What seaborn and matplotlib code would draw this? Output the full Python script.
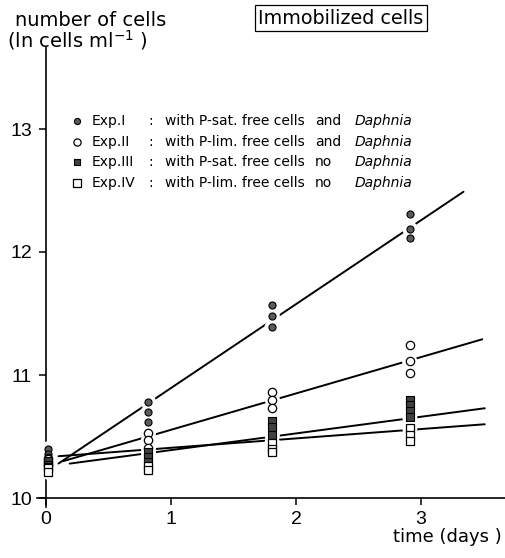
import numpy as np
import pandas as pd
import matplotlib
matplotlib.use("Agg")
import matplotlib.pyplot as plt
import seaborn as sns

# ---- data ----
exp_names = ["Exp.I", "Exp.II", "Exp.III", "Exp.IV"]

exp1_days = [0.02, 0.02, 0.02, 0.82, 0.82, 0.82, 1.81, 1.81, 1.81, 2.91, 2.91, 2.91]
exp1_vals = [10.40, 10.36, 10.33, 10.78, 10.70, 10.62, 11.57, 11.48, 11.39, 12.31, 12.19, 12.11]

exp2_days = [0.02, 0.02, 0.02, 0.82, 0.82, 0.82, 1.81, 1.81, 1.81, 2.91, 2.91, 2.91]
exp2_vals = [10.32, 10.29, 10.27, 10.53, 10.47, 10.41, 10.86, 10.80, 10.73, 11.24, 11.11, 11.02]

exp3_days = [0.02, 0.02, 0.02, 0.82, 0.82, 0.82, 1.81, 1.81, 1.81, 2.91, 2.91, 2.91, 2.91]
exp3_vals = [10.30, 10.27, 10.25, 10.37, 10.33, 10.29, 10.63, 10.58, 10.51, 10.80, 10.76, 10.71, 10.66]

exp4_days = [0.02, 0.02, 0.82, 0.82, 1.81, 1.81, 1.81, 2.91, 2.91, 2.91]
exp4_vals = [10.24, 10.21, 10.26, 10.23, 10.45, 10.40, 10.37, 10.57, 10.51, 10.46]

# regression lines (slope / intercept and drawn range)
fit_slope = [0.682, 0.2955, 0.1355, 0.0762]
fit_intercept = [10.212, 10.259, 10.254, 10.332]
fit_start = [0.10, 0.14, 0.19, 0.10]
fit_end = [3.34, 3.49, 3.51, 3.51]

legend_text = ["with P-sat. free cells", "with P-lim. free cells",
               "with P-sat. free cells", "with P-lim. free cells"]
legend_join = ["and", "and", "no", "no"]

y_ticks = [10, 11, 12, 13]
x_ticks = [0, 1, 2, 3]

# ---- frames ----
points = pd.concat([
    pd.DataFrame({"day": d, "value": v, "exp": n})
    for d, v, n in zip([exp1_days, exp2_days, exp3_days, exp4_days],
                       [exp1_vals, exp2_vals, exp3_vals, exp4_vals], exp_names)
], ignore_index=True)

fits = pd.concat([
    pd.DataFrame({"day": [a, b], "value": [c + m * a, c + m * b], "exp": n})
    for a, b, m, c, n in zip(fit_start, fit_end, fit_slope, fit_intercept, exp_names)
], ignore_index=True)

sns.set_style("ticks")
plt.rcParams["font.family"] = ["DejaVu Sans"]
plt.rcParams["text.color"] = "black"
plt.rcParams["xtick.color"] = "black"
plt.rcParams["ytick.color"] = "black"

W, H = 506, 558
fig = plt.figure(figsize=(W / 100, H / 100), dpi=100)


def fx(px):
    return px / W


def fy(py):
    return 1 - py / H


# axes placed so that x=0 -> 46px, y=10 -> 498px
ax_l, ax_r, ax_t, ax_b = 37, 505, 47, 507
ax = fig.add_axes([fx(ax_l), fy(ax_b), (ax_r - ax_l) / W, (ax_b - ax_t) / H])
ax.set_xlim((ax_l - 46) / 125, (ax_r - 46) / 125)
ax.set_ylim(10 - (ax_b - 498) / 123, 10 + (498 - ax_t) / 123)

sns.lineplot(data=fits, x="day", y="value", hue="exp", units="exp",
             estimator=None, palette=["black"] * 4, linewidth=1.4,
             legend=False, ax=ax, zorder=2)

styles = {
    "Exp.I": dict(marker="o", s=26, facecolor="#5a5a5a", edgecolor="black", linewidth=0.8),
    "Exp.II": dict(marker="o", s=36, facecolor="white", edgecolor="black", linewidth=0.9),
    "Exp.III": dict(marker="s", s=28, facecolor="#404040", edgecolor="black", linewidth=0.8),
    "Exp.IV": dict(marker="s", s=34, facecolor="white", edgecolor="black", linewidth=0.9),
}

# white halo so the fit lines break around the sample columns
sns.scatterplot(data=points, x="day", y="value", color="white", s=120,
                edgecolor="none", legend=False, ax=ax, zorder=3)
for name in exp_names:
    sub = points[points["exp"] == name]
    sns.scatterplot(data=sub, x="day", y="value", legend=False, ax=ax,
                    zorder=4, **styles[name])

ax.spines["top"].set_visible(False)
ax.spines["right"].set_visible(False)
ax.spines["left"].set_position(("data", 0))
ax.spines["bottom"].set_position(("data", 10))
for sp in ["left", "bottom"]:
    ax.spines[sp].set_linewidth(1.2)
    ax.spines[sp].set_color("black")

ax.set_xticks(x_ticks)
ax.set_yticks(y_ticks)
ax.set_xticklabels([str(t) for t in x_ticks], family="Liberation Sans", fontsize=14)
ax.set_yticklabels([str(t) for t in y_ticks], family="Liberation Sans", fontsize=14)
ax.tick_params(axis="both", direction="out", length=5, width=1.1, colors="black")
ax.tick_params(axis="x", pad=4)
ax.tick_params(axis="y", pad=5)
ax.set_xlabel("")
ax.set_ylabel("")
ax.patch.set_alpha(0)

# legend rows
row_y = [121, 142, 162, 183]
for name, txt, jn, ry in zip(exp_names, legend_text, legend_join, row_y):
    st = dict(styles[name])
    st["s"] = st["s"] * 0.75
    ax.scatter([fx(77)], [fy(ry)], transform=fig.transFigure, clip_on=False, zorder=5, **st)
    fig.text(fx(92), fy(ry), name, fontsize=10, va="center")
    fig.text(fx(148), fy(ry), ":", fontsize=10, va="center")
    fig.text(fx(165), fy(ry), txt, fontsize=10, va="center")
    fig.text(fx(315), fy(ry), jn, fontsize=10, va="center")
    fig.text(fx(355), fy(ry), "Daphnia", fontsize=10, style="italic", va="center")

fig.text(fx(15), fy(20), "number of cells", fontsize=14, va="center")
fig.text(fx(7), fy(40), "(ln cells ml$^{-1}$ )", fontsize=14, va="center")
fig.text(fx(341), fy(18), "Immobilized cells", fontsize=13.8, ha="center", va="center",
         bbox=dict(boxstyle="square,pad=0.2", facecolor="white", edgecolor="black", linewidth=0.9))
fig.text(fx(502), fy(537), "time (days )", fontsize=13, ha="right", va="center")

fig.savefig("out.png", dpi=100)
